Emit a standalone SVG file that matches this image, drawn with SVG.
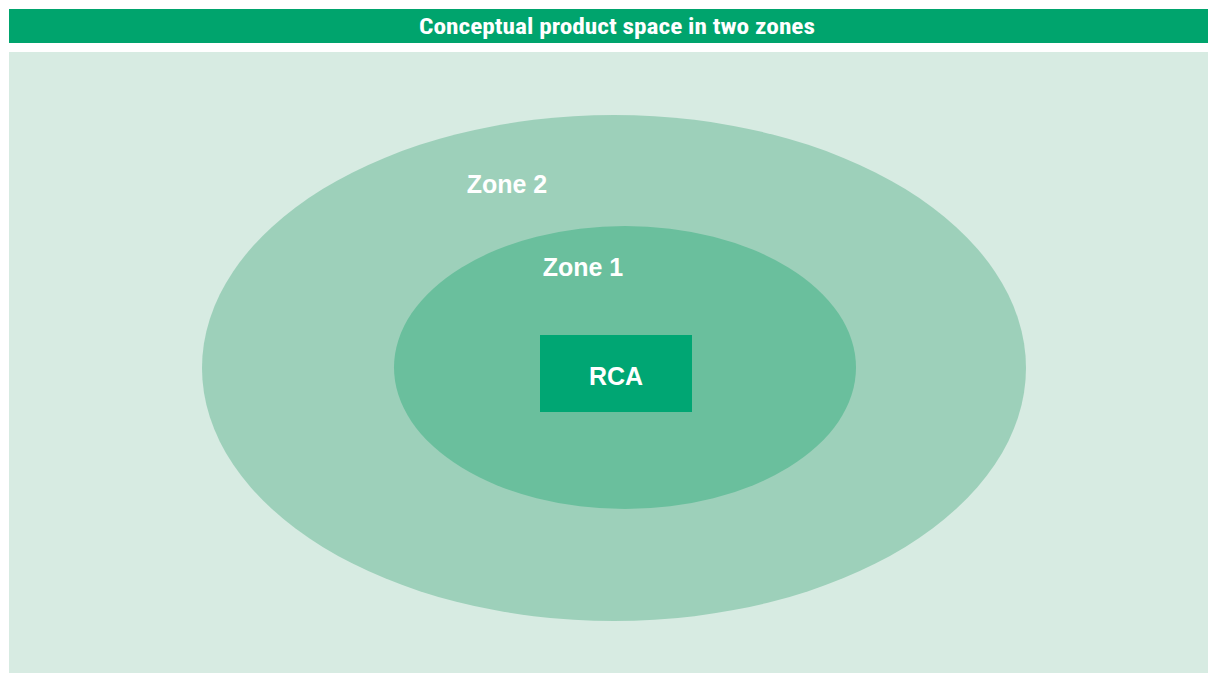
<svg xmlns="http://www.w3.org/2000/svg" width="1208" height="673" viewBox="0 0 1208 673">
<style>
.t{font-family:"Liberation Sans",Arial,sans-serif;font-weight:bold;fill:#fff;font-size:25px}
.title{font-family:"Liberation Sans Narrow","Roboto Condensed","Liberation Sans",sans-serif;font-weight:bold;fill:#fff;font-size:22px}
</style>
<rect x="0" y="0" width="1208" height="673" fill="#fff"/>
<g id="header">
<rect x="9" y="9" width="1199" height="34" fill="#00A46D"/>
<text class="title" x="617" y="34" text-anchor="middle" textLength="396" lengthAdjust="spacingAndGlyphs">Conceptual product space in two zones</text>
</g>
<rect id="background" x="9" y="52" width="1199" height="621" fill="#D7EBE2"/>
<g id="zone2">
<ellipse cx="614" cy="368" rx="412" ry="253" fill="#9DD0BA"/>
<text class="t" x="507" y="193" text-anchor="middle">Zone 2</text>
</g>
<g id="zone1">
<ellipse cx="625" cy="367.5" rx="231" ry="141.5" fill="#6ABF9D"/>
<text class="t" x="583" y="276" text-anchor="middle">Zone 1</text>
</g>
<g id="rca">
<rect x="540" y="335" width="152" height="77" fill="#00A673"/>
<text class="t" x="616" y="385" text-anchor="middle">RCA</text>
</g>
<g id="connectors"/>
</svg>
